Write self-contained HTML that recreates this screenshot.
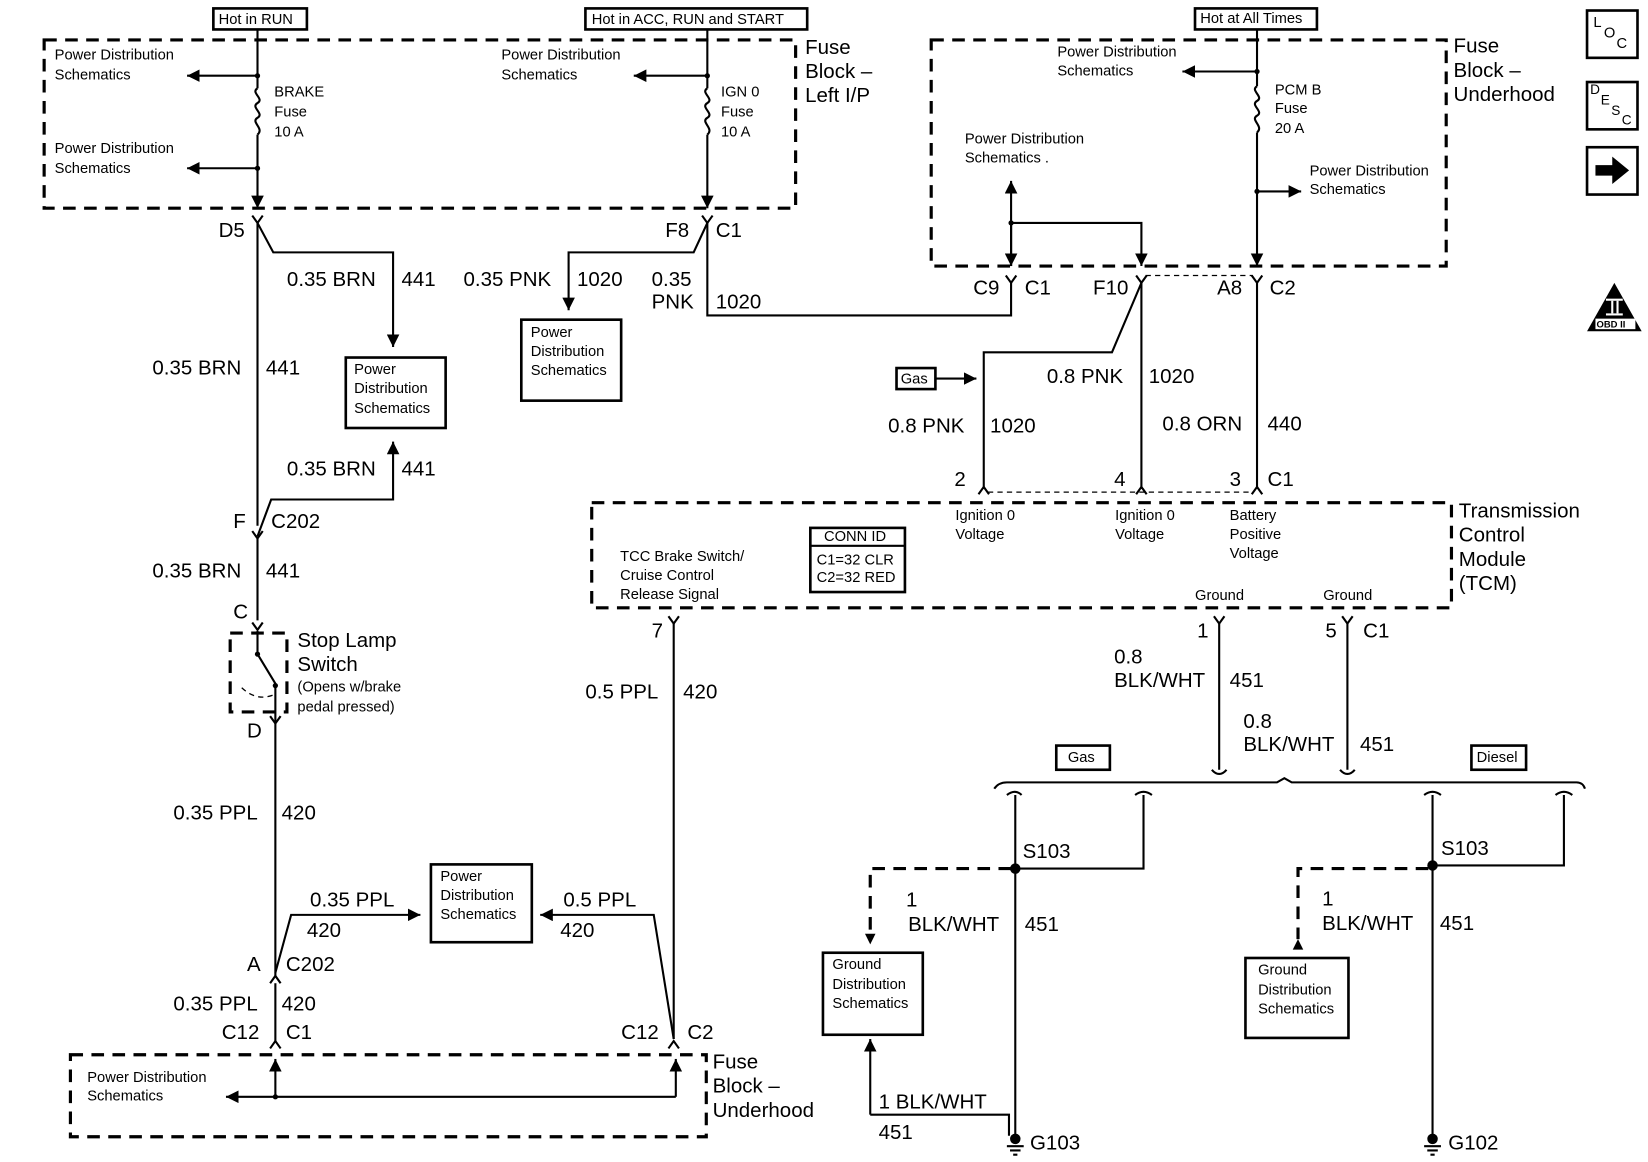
<!DOCTYPE html>
<html><head><meta charset="utf-8"><style>
html,body{margin:0;padding:0;background:#fff;}
svg{display:block;}
text{font-family:"Liberation Sans",Arial,sans-serif;fill:#000;dominant-baseline:middle;}
.s{font-size:14px;}
.b{font-size:19.5px;}
.w{stroke:#000;stroke-width:2;fill:none;}
.d{stroke:#000;stroke-width:3;fill:none;stroke-dasharray:12 8;}
.dt{stroke:#000;stroke-width:1.2;fill:none;stroke-dasharray:5 4;}
.bx{stroke:#000;stroke-width:2.5;fill:#fff;}
</style></head><body>
<svg width="1648" height="1162" viewBox="0 0 1568 1105" preserveAspectRatio="none" xmlns="http://www.w3.org/2000/svg">
<defs>
<marker id="a" viewBox="0 0 10 10" refX="10" refY="5" markerWidth="6" markerHeight="6" orient="auto-start-reverse"><path d="M0,0L10,5L0,10z" fill="#000"/></marker>
</defs>
<!-- top hot labels -->
<rect x="203" y="8" width="89" height="20" class="bx" stroke-width="2"/><text x="208" y="19" class="s">Hot in RUN</text>
<rect x="557" y="8" width="211" height="20" class="bx" stroke-width="2"/><text x="563" y="19" class="s">Hot in ACC, RUN and START</text>
<rect x="1137" y="8" width="116" height="20" class="bx" stroke-width="2"/><text x="1142" y="18" class="s">Hot at All Times</text>

<!-- left I/P fuse block -->
<rect x="42" y="38" width="715" height="160" class="d"/>
<text x="766" y="46" class="b">Fuse</text><text x="766" y="69" class="b">Block –</text><text x="766" y="92" class="b">Left I/P</text>
<path class="w" d="M245,28V84M245,128V198" marker-end="url(#a)"/>
<path class="w" d="M245,84c-7,4 7,10 0,14c-7,4 7,10 0,14c-7,4 7,10 0,16"/>
<path class="w" d="M245,72H178" marker-end="url(#a)"/><circle cx="245" cy="72" r="2.5"/>
<path class="w" d="M245,160H178" marker-end="url(#a)"/><circle cx="245" cy="160" r="2.5"/>
<text x="52" y="53" class="s">Power Distribution</text><text x="52" y="72" class="s">Schematics</text>
<text x="52" y="142" class="s">Power Distribution</text><text x="52" y="161" class="s">Schematics</text>
<text x="261" y="88" class="s">BRAKE</text><text x="261" y="107" class="s">Fuse</text><text x="261" y="126" class="s">10 A</text>
<path class="w" d="M673,28V84M673,128V198" marker-end="url(#a)"/>
<path class="w" d="M673,84c-7,4 7,10 0,14c-7,4 7,10 0,14c-7,4 7,10 0,16"/>
<path class="w" d="M673,72H603" marker-end="url(#a)"/><circle cx="673" cy="72" r="2.5"/>
<text x="477" y="53" class="s">Power Distribution</text><text x="477" y="72" class="s">Schematics</text>
<text x="686" y="88" class="s">IGN 0</text><text x="686" y="107" class="s">Fuse</text><text x="686" y="126" class="s">10 A</text>

<!-- connector chevrons -->
<g class="w" stroke-width="1.6">
<path d="M240,205L245,212L250,205"/><path d="M668,205L673,212L678,205"/>
<path d="M957,262L962,269L967,262"/><path d="M1081,262L1086,269L1091,262"/><path d="M1191,262L1196,269L1201,262"/>
<path d="M240,505L245,512L250,505"/><path d="M240,592L245,599L250,592"/><path d="M257,681L262,688L267,681"/>
<path d="M257,935L262,928L267,935"/><path d="M257,997L262,990L267,997"/><path d="M636,997L641,990L646,997"/>
<path d="M931,470L936,463L941,470"/><path d="M1081,470L1086,463L1091,470"/><path d="M1191,470L1196,463L1201,470"/>
<path d="M636,586L641,593L646,586"/><path d="M1155,586L1160,593L1165,586"/><path d="M1277,586L1282,593L1287,586"/>
</g>
<text x="208" y="220" class="b">D5</text><text x="633" y="220" class="b">F8</text><text x="681" y="220" class="b">C1</text>

<!-- left column -->
<path class="w" d="M245,212V500"/>
<path class="w" d="M245,212L260,240H374V330" marker-end="url(#a)"/>
<text x="273" y="267" class="b">0.35 BRN</text><text x="382" y="267" class="b">441</text>
<rect x="329" y="340" width="95" height="67" class="bx"/>
<text x="337" y="352" class="s">Power</text><text x="337" y="370" class="s">Distribution</text><text x="337" y="389" class="s">Schematics</text>
<text x="145" y="351" class="b">0.35 BRN</text><text x="253" y="351" class="b">441</text>
<path class="w" d="M245,510L258,475H374V420" marker-end="url(#a)"/>
<text x="273" y="447" class="b">0.35 BRN</text><text x="382" y="447" class="b">441</text>
<text x="222" y="497" class="b">F</text><text x="258" y="497" class="b">C202</text>
<path class="w" d="M245,512V590"/>
<text x="145" y="544" class="b">0.35 BRN</text><text x="253" y="544" class="b">441</text>
<text x="222" y="583" class="b">C</text>
<rect x="219" y="602" width="54" height="75" class="d" stroke-width="2.5"/>
<path class="w" d="M245,600V622L262,650V688"/><circle cx="245" cy="622" r="2.5"/><circle cx="262" cy="652" r="2.5"/>
<path class="dt" d="M230,654Q245,668 262,660"/>
<text x="283" y="610" class="b">Stop Lamp</text><text x="283" y="633" class="b">Switch</text>
<text x="283" y="654" class="s">(Opens w/brake</text><text x="283" y="673" class="s">pedal pressed)</text>
<text x="235" y="696" class="b">D</text>
<path class="w" d="M262,688V928"/>
<text x="165" y="774" class="b">0.35 PPL</text><text x="268" y="774" class="b">420</text>
<text x="235" y="918" class="b">A</text><text x="272" y="918" class="b">C202</text>
<path class="w" d="M262,925L277,870H400" marker-end="url(#a)"/>
<text x="295" y="857" class="b">0.35 PPL</text><text x="292" y="886" class="b">420</text>
<rect x="410" y="822" width="96" height="74" class="bx"/>
<text x="419" y="834" class="s">Power</text><text x="419" y="852" class="s">Distribution</text><text x="419" y="870" class="s">Schematics</text>
<path class="w" d="M641,988L622,870H514" marker-end="url(#a)"/>
<text x="536" y="857" class="b">0.5 PPL</text><text x="533" y="886" class="b">420</text>
<path class="w" d="M262,935V990"/>
<text x="165" y="956" class="b">0.35 PPL</text><text x="268" y="956" class="b">420</text>
<text x="211" y="983" class="b">C12</text><text x="272" y="983" class="b">C1</text>
<text x="591" y="983" class="b">C12</text><text x="654" y="983" class="b">C2</text>
<rect x="67" y="1003" width="605" height="78" class="d"/>
<text x="678" y="1011" class="b">Fuse</text><text x="678" y="1034" class="b">Block –</text><text x="678" y="1057" class="b">Underhood</text>
<path class="w" d="M262,1043V1007" marker-end="url(#a)"/>
<path class="w" d="M643,1043V1007" marker-end="url(#a)"/>
<path class="w" d="M643,1043H215" marker-end="url(#a)"/><circle cx="262" cy="1043" r="2.5"/>
<text x="83" y="1025" class="s">Power Distribution</text><text x="83" y="1043" class="s">Schematics</text>

<!-- middle -->
<path class="w" d="M673,212L660,240H541V295" marker-end="url(#a)"/>
<text x="441" y="267" class="b">0.35 PNK</text><text x="549" y="267" class="b">1020</text>
<rect x="496" y="304" width="95" height="77" class="bx"/>
<text x="505" y="317" class="s">Power</text><text x="505" y="335" class="s">Distribution</text><text x="505" y="353" class="s">Schematics</text>
<path class="w" d="M673,212V300H962V269"/>
<text x="620" y="267" class="b">0.35</text><text x="620" y="288" class="b">PNK</text><text x="681" y="288" class="b">1020</text>

<!-- right fuse block -->
<rect x="886" y="38" width="490" height="215" class="d"/>
<text x="1383" y="45" class="b">Fuse</text><text x="1383" y="68" class="b">Block –</text><text x="1383" y="91" class="b">Underhood</text>
<path class="w" d="M1196,28V82M1196,126V253" marker-end="url(#a)"/>
<path class="w" d="M1196,82c-7,4 7,10 0,14c-7,4 7,10 0,14c-7,4 7,10 0,16"/>
<path class="w" d="M1196,68H1125" marker-end="url(#a)"/><circle cx="1196" cy="68" r="2.5"/>
<path class="w" d="M1196,182H1238" marker-end="url(#a)"/><circle cx="1196" cy="182" r="2.5"/>
<text x="1006" y="50" class="s">Power Distribution</text><text x="1006" y="68" class="s">Schematics</text>
<text x="1213" y="86" class="s">PCM B</text><text x="1213" y="104" class="s">Fuse</text><text x="1213" y="123" class="s">20 A</text>
<text x="1246" y="163" class="s">Power Distribution</text><text x="1246" y="181" class="s">Schematics</text>
<path class="w" d="M962,253V172" marker-end="url(#a)"/>
<path class="w" d="M962,212V253" marker-end="url(#a)"/>
<path class="w" d="M962,212H1086V253" marker-end="url(#a)"/><circle cx="962" cy="212" r="2.5"/>
<text x="918" y="133" class="s">Power Distribution</text><text x="918" y="151" class="s">Schematics .</text>
<text x="926" y="275" class="b">C9</text><text x="975" y="275" class="b">C1</text>
<text x="1040" y="275" class="b">F10</text>
<text x="1158" y="275" class="b">A8</text><text x="1208" y="275" class="b">C2</text>
<path class="dt" d="M1090,262H1192"/>
<path class="w" d="M1086,269L1058,335H936V465"/>
<path class="w" d="M1086,269V465"/><path class="w" d="M1196,269V465"/>
<rect x="853" y="350" width="37" height="20" class="bx"/><text x="857" y="361" class="s">Gas</text>
<path class="w" d="M890,360H929" marker-end="url(#a)"/>
<text x="996" y="359" class="b">0.8 PNK</text><text x="1093" y="359" class="b">1020</text>
<text x="845" y="406" class="b">0.8 PNK</text><text x="942" y="406" class="b">1020</text>
<text x="1106" y="404" class="b">0.8 ORN</text><text x="1206" y="404" class="b">440</text>
<text x="908" y="457" class="b">2</text><text x="1060" y="457" class="b">4</text><text x="1170" y="457" class="b">3</text><text x="1206" y="457" class="b">C1</text>
<path class="dt" d="M940,468H1192"/>

<!-- TCM -->
<rect x="563" y="478" width="818" height="100" class="d"/>
<text x="1388" y="487" class="b">Transmission</text><text x="1388" y="510" class="b">Control</text><text x="1388" y="533" class="b">Module</text><text x="1388" y="556" class="b">(TCM)</text>
<text x="909" y="491" class="s">Ignition 0</text><text x="909" y="509" class="s">Voltage</text>
<text x="1061" y="491" class="s">Ignition 0</text><text x="1061" y="509" class="s">Voltage</text>
<text x="1170" y="491" class="s">Battery</text><text x="1170" y="509" class="s">Positive</text><text x="1170" y="527" class="s">Voltage</text>
<text x="590" y="530" class="s">TCC Brake Switch/</text><text x="590" y="548" class="s">Cruise Control</text><text x="590" y="566" class="s">Release Signal</text>
<rect x="771" y="502" width="90" height="61" class="bx"/><path class="w" d="M771,519H861"/>
<text x="784" y="511" class="s">CONN ID</text><text x="777" y="533" class="s">C1=32 CLR</text><text x="777" y="550" class="s">C2=32 RED</text>
<text x="1137" y="567" class="s">Ground</text><text x="1259" y="567" class="s">Ground</text>

<text x="620" y="601" class="b">7</text>
<path class="w" d="M641,593V988"/>
<text x="557" y="659" class="b">0.5 PPL</text><text x="650" y="659" class="b">420</text>
<text x="1139" y="601" class="b">1</text><text x="1261" y="601" class="b">5</text><text x="1297" y="601" class="b">C1</text>
<path class="w" d="M1160,593V732"/><path class="w" d="M1282,593V732"/>
<path class="w" d="M1153,732Q1160,740 1167,732"/><path class="w" d="M1275,732Q1282,740 1289,732"/>
<text x="1060" y="626" class="b">0.8</text><text x="1060" y="648" class="b">BLK/WHT</text><text x="1170" y="648" class="b">451</text>
<text x="1183" y="687" class="b">0.8</text><text x="1183" y="709" class="b">BLK/WHT</text><text x="1294" y="709" class="b">451</text>
<rect x="1005" y="709" width="51" height="23" class="bx" stroke-width="2"/><text x="1016" y="721" class="s">Gas</text>
<rect x="1400" y="709" width="52" height="23" class="bx" stroke-width="2"/><text x="1405" y="721" class="s">Diesel</text>
<path class="w" d="M946,750Q950,744 958,744H1215L1222,740L1229,744H1500Q1506,744 1508,750"/>
<path class="w" d="M958,756Q966,750 972,756M1080,756Q1088,750 1096,756M1355,756Q1363,750 1371,756M1480,756Q1488,750 1496,756"/>

<!-- gas ground -->
<path class="w" d="M966,756V1080"/>
<path class="w" d="M966,826H1088V756"/><circle cx="966" cy="826" r="5"/>
<text x="973" y="811" class="b">S103</text>
<path class="d" stroke-width="2" stroke-dasharray="8 6" d="M962,826H828V888"/>
<path d="M823,890L828,900L833,890z" transform="translate(0,-2)"/>
<rect x="783" y="906" width="95" height="78" class="bx"/>
<text x="792" y="918" class="s">Ground</text><text x="792" y="937" class="s">Distribution</text><text x="792" y="955" class="s">Schematics</text>
<path class="w" d="M828,1060V988" marker-end="url(#a)"/>
<path class="w" d="M828,1060H960V1080"/>
<text x="836" y="1049" class="b">1 BLK/WHT</text><text x="836" y="1078" class="b">451</text>
<text x="862" y="857" class="b">1</text><text x="864" y="880" class="b">BLK/WHT</text><text x="975" y="880" class="b">451</text>
<circle cx="966" cy="1083" r="5"/><path class="w" stroke-width="1.5" d="M958,1090H974M961,1094H971M964,1098H968"/>
<text x="980" y="1088" class="b">G103</text>

<!-- diesel ground -->
<path class="w" d="M1363,756V1080"/>
<path class="w" d="M1363,823H1488V756"/><circle cx="1363" cy="823" r="5"/>
<text x="1371" y="808" class="b">S103</text>
<path class="d" stroke-width="2" stroke-dasharray="8 6" d="M1359,826H1235V893"/>
<path d="M1230,893L1235,903L1240,893z" transform="rotate(180 1235 898)"/>
<rect x="1185" y="911" width="98" height="76" class="bx"/>
<text x="1197" y="923" class="s">Ground</text><text x="1197" y="942" class="s">Distribution</text><text x="1197" y="960" class="s">Schematics</text>
<text x="1258" y="856" class="b">1</text><text x="1258" y="879" class="b">BLK/WHT</text><text x="1370" y="879" class="b">451</text>
<circle cx="1363" cy="1083" r="5"/><path class="w" stroke-width="1.5" d="M1355,1090H1371M1358,1094H1368M1361,1098H1365"/>
<text x="1378" y="1088" class="b">G102</text>

<!-- icons -->
<rect x="1510" y="10" width="48" height="45" class="bx" stroke-width="3"/>
<text x="1516" y="22" class="s">L</text><text x="1526" y="32" class="s">O</text><text x="1538" y="42" class="s">C</text>
<rect x="1510" y="78" width="48" height="45" class="bx" stroke-width="3"/>
<text x="1513" y="86" style="font-size:13px">D</text><text x="1523" y="96" style="font-size:13px">E</text><text x="1533" y="106" style="font-size:13px">S</text><text x="1543" y="115" style="font-size:13px">C</text>
<rect x="1510" y="140" width="48" height="45" class="bx" stroke-width="3"/>
<path d="M1518,157H1534V149L1550,162L1534,175V167H1518z"/>
<path d="M1536,269L1510,315H1562z"/>
<rect x="1528" y="284" width="16" height="2" fill="#fff"/><rect x="1533" y="286" width="2" height="12" fill="#fff"/><rect x="1538" y="286" width="2" height="12" fill="#fff"/><rect x="1528" y="298" width="16" height="2" fill="#fff"/>
<rect x="1518" y="303" width="38" height="10" fill="#fff"/>
<text x="1519" y="309" style="font-size:9px;font-weight:bold">OBD II</text>
</svg>
</body></html>
